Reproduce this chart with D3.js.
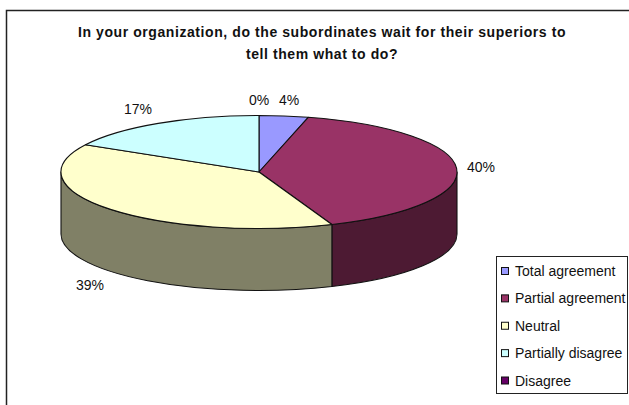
<!DOCTYPE html>
<html><head><meta charset="utf-8">
<script src="https://cdn.jsdelivr.net/npm/d3@7"></script>
<style>html,body{margin:0;padding:0;background:#fff}svg{display:block}text{font-family:"Liberation Sans",Arial,sans-serif;fill:#111}</style>
</head><body><svg id="c" width="629" height="405"></svg>
<script>
const categories = ["Total agreement","Partial agreement","Neutral","Partially disagree","Disagree"];
const values = [4,40,39,17,0];
const topColors = ["#9999ff","#993366","#ffffcc","#ccffff","#660066"];
const sideColors = ["#4d4d80","#4d1a33","#808066","#668080","#330033"];
const titleLines = ["In your organization, do the subordinates wait for their superiors to","tell them what to do?"];
const labelAnchors = [[289,105],[481,172],[90,290],[138,114],[259,105]];

const svg = d3.select("#c");
const cx=259, cy=172, rx=198, ry=56.5, depth=62;
const x = d3.scaleLinear().domain([-1,1]).range([cx-rx,cx+rx]);
const y = d3.scaleLinear().domain([-1,1]).range([cy-ry,cy+ry]);
const arcs = d3.pie().sort(null).value(d=>d)(values);
const pt=(a,dy=0)=>[x(Math.sin(a)),y(-Math.cos(a))+dy];
const ink="#111";

// frame
svg.append("path").attr("d","M629,10.5H6.5V405").attr("fill","none").attr("stroke","#222").attr("stroke-width",1.5);

// side walls (front half only: angles from 90deg to 270deg)
const lo=Math.PI/2, hi=3*Math.PI/2;
arcs.forEach((d,i)=>{
  const a0=Math.max(d.startAngle,lo), a1=Math.min(d.endAngle,hi);
  if(a1<=a0) return;
  const p0=pt(a0),p1=pt(a1),q0=pt(a0,depth),q1=pt(a1,depth);
  svg.append("path").attr("d",`M${p0}A${rx},${ry} 0 0 1 ${p1}L${q1}A${rx},${ry} 0 0 0 ${q0}Z`)
    .attr("fill",sideColors[i]).attr("stroke",ink).attr("stroke-width",1.1).attr("stroke-linejoin","round");
});
// top slices
arcs.forEach((d,i)=>{
  if(d.endAngle-d.startAngle<=0) return;
  const p0=pt(d.startAngle),p1=pt(d.endAngle);
  const large=d.endAngle-d.startAngle>Math.PI?1:0;
  svg.append("path").attr("d",`M${cx},${cy}L${p0}A${rx},${ry} 0 ${large} 1 ${p1}Z`)
    .attr("fill",topColors[i]).attr("stroke",ink).attr("stroke-width",1.1).attr("stroke-linejoin","round");
});
// title
svg.selectAll("text.t").data(titleLines).join("text").attr("class","t")
  .attr("x",322).attr("y",(d,i)=>37+i*22).attr("text-anchor","middle")
  .attr("font-size",14).attr("font-weight","bold").attr("letter-spacing",0.58).text(d=>d);
// data labels
svg.selectAll("text.l").data(values).join("text").attr("class","l")
  .attr("x",(d,i)=>labelAnchors[i][0]).attr("y",(d,i)=>labelAnchors[i][1]).attr("text-anchor","middle")
  .attr("font-size",14).text(d=>d+"%");
// legend
svg.append("rect").attr("x",496.5).attr("y",256.5).attr("width",131).attr("height",137)
  .attr("fill","#fff").attr("stroke","#222").attr("stroke-width",1);
const ly=d3.scalePoint().domain(categories).range([271,380.5]);
const g=svg.selectAll("g.k").data(categories).join("g").attr("class","k");
g.append("rect").attr("x",501.5).attr("y",d=>ly(d)-3.5).attr("width",7).attr("height",7)
  .attr("fill",(d,i)=>topColors[i]).attr("stroke",ink).attr("stroke-width",1);
g.append("text").attr("x",515).attr("y",d=>ly(d)+5).attr("font-size",14).text(d=>d);
</script></body></html>
